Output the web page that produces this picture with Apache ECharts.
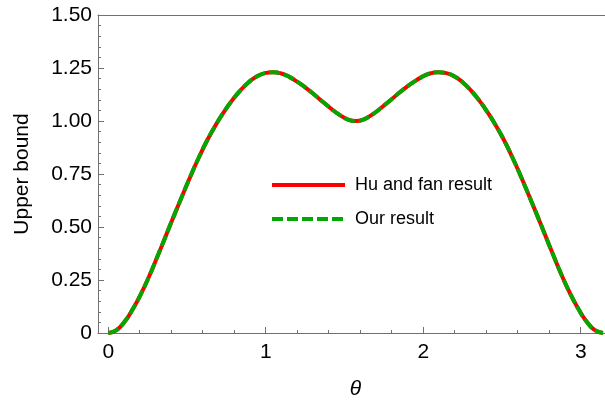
<!DOCTYPE html>
<html>
<head>
<meta charset="utf-8">
<script src="https://cdn.jsdelivr.net/npm/echarts@6/dist/echarts.min.js"></script>
<style>html,body{margin:0;padding:0;background:#fff;}#c{width:605px;height:403px;}</style>
</head>
<body>
<div id="c"></div>
<script>
const theta = [0, 0.0524, 0.1047, 0.1571, 0.2094, 0.2618, 0.3142, 0.3665, 0.4189, 0.4712, 0.5236, 0.5760, 0.6283, 0.6807, 0.7330, 0.7854, 0.8378, 0.8901, 0.9425, 0.9948, 1.0472, 1.0996, 1.1519, 1.2043, 1.2566, 1.3090, 1.3614, 1.4137, 1.4661, 1.5184, 1.5708, 1.6232, 1.6755, 1.7279, 1.7802, 1.8326, 1.8850, 1.9373, 1.9897, 2.0420, 2.0944, 2.1468, 2.1991, 2.2515, 2.3038, 2.3562, 2.4086, 2.4609, 2.5133, 2.5656, 2.6180, 2.6704, 2.7227, 2.7751, 2.8274, 2.8798, 2.9322, 2.9845, 3.0369, 3.0892, 3.1416];
const huFanResult = [0, 0.014, 0.054, 0.114, 0.187, 0.271, 0.364, 0.460, 0.556, 0.650, 0.742, 0.829, 0.909, 0.979, 1.041, 1.096, 1.143, 1.182, 1.210, 1.226, 1.230, 1.224, 1.207, 1.183, 1.155, 1.124, 1.091, 1.059, 1.030, 1.008, 1.000, 1.008, 1.030, 1.059, 1.091, 1.124, 1.155, 1.183, 1.207, 1.224, 1.230, 1.226, 1.210, 1.182, 1.143, 1.096, 1.041, 0.979, 0.909, 0.829, 0.742, 0.650, 0.556, 0.460, 0.364, 0.271, 0.187, 0.114, 0.054, 0.014, 0];
const ourResult = [0, 0.014, 0.054, 0.114, 0.187, 0.271, 0.364, 0.460, 0.556, 0.650, 0.742, 0.829, 0.909, 0.979, 1.041, 1.096, 1.143, 1.182, 1.210, 1.226, 1.230, 1.224, 1.207, 1.183, 1.155, 1.124, 1.091, 1.059, 1.030, 1.008, 1.000, 1.008, 1.030, 1.059, 1.091, 1.124, 1.155, 1.183, 1.207, 1.224, 1.230, 1.226, 1.210, 1.182, 1.143, 1.096, 1.041, 0.979, 0.909, 0.829, 0.742, 0.650, 0.556, 0.460, 0.364, 0.271, 0.187, 0.114, 0.054, 0.014, 0];
const xMajorTicks = [0, 1, 2, 3];
const xMinorTicks = [0.2, 0.4, 0.6, 0.8, 1.2, 1.4, 1.6, 1.8, 2.2, 2.4, 2.6, 2.8];
const seriesNames = ['Hu and fan result', 'Our result'];

const FONT = 'Liberation Sans, Arial, sans-serif';
const AXC = '#707070';
const XMIN = -0.065, XMAX = 3.154;

const chart = echarts.init(document.getElementById('c'), null, {renderer: 'canvas'});
chart.setOption({
  animation: false,
  backgroundColor: '#fff',
  grid: {left: 98, right: 0, top: 15, bottom: 70, containLabel: false, outerBoundsMode: 'none'},
  legend: {
    orient: 'vertical', left: 270, top: 175, padding: 0,
    itemWidth: 73, itemHeight: 20, itemGap: 14,
    selectedMode: false,
    lineStyle: {width: 4},
    itemStyle: {opacity: 0, borderWidth: 0},
    textStyle: {fontFamily: FONT, fontSize: 18, color: '#000', lineHeight: 20, padding: [0, 0, 0, 5]},
    data: seriesNames
  },
  xAxis: [
    {
      type: 'value', min: XMIN, max: XMAX, position: 'bottom',
      name: 'θ', nameLocation: 'middle', nameGap: 46,
      nameTextStyle: {fontFamily: FONT, fontSize: 21, fontStyle: 'italic', color: '#000', padding: [0, 0, 0, 8]},
      axisLine: {show: true, onZero: false, lineStyle: {color: AXC, width: 1}},
      axisTick: {show: true, inside: true, length: 6, customValues: xMajorTicks, lineStyle: {color: AXC}},
      axisLabel: {show: true, customValues: xMajorTicks, fontFamily: FONT, fontSize: 21, color: '#000', margin: 9,
        formatter: v => String(Math.round(v))},
      splitLine: {show: false}
    },
    {
      type: 'value', min: XMIN, max: XMAX, position: 'bottom',
      axisLine: {show: false, onZero: false},
      axisTick: {show: true, inside: true, length: 3, customValues: xMinorTicks, lineStyle: {color: AXC}},
      axisLabel: {show: false},
      splitLine: {show: false}
    },
    {
      type: 'value', min: XMIN, max: XMAX, position: 'top',
      axisLine: {show: true, onZero: false, lineStyle: {color: AXC, width: 1}},
      axisTick: {show: false}, axisLabel: {show: false}, splitLine: {show: false}
    }
  ],
  yAxis: {
    type: 'value', min: 0, max: 1.5, interval: 0.25,
    name: 'Upper bound', nameLocation: 'middle', nameGap: 65,
    nameTextStyle: {fontFamily: FONT, fontSize: 21, color: '#000'},
    axisLine: {show: true, onZero: false, lineStyle: {color: AXC, width: 1}},
    axisTick: {show: true, inside: true, length: 6, lineStyle: {color: AXC}},
    minorTick: {show: true, splitNumber: 5, length: 3, lineStyle: {color: AXC}},
    axisLabel: {fontFamily: FONT, fontSize: 21, color: '#000', margin: 6,
      formatter: v => v === 0 ? '0' : v.toFixed(2)},
    splitLine: {show: false}
  },
  series: [
    {
      name: seriesNames[0], type: 'line', xAxisIndex: 0,
      data: theta.map((t, i) => [t, huFanResult[i]]),
      smooth: true, symbol: 'none', clip: true,
      lineStyle: {color: '#ff0000', width: 4, type: 'solid'},
      itemStyle: {color: '#ff0000'}
    },
    {
      name: seriesNames[1], type: 'line', xAxisIndex: 0,
      data: theta.map((t, i) => [t, ourResult[i]]),
      smooth: true, symbol: 'none', clip: true,
      lineStyle: {color: '#00a800', width: 4, type: [11, 4]},
      itemStyle: {color: '#00a800'}
    }
  ]
});
</script>
</body>
</html>
